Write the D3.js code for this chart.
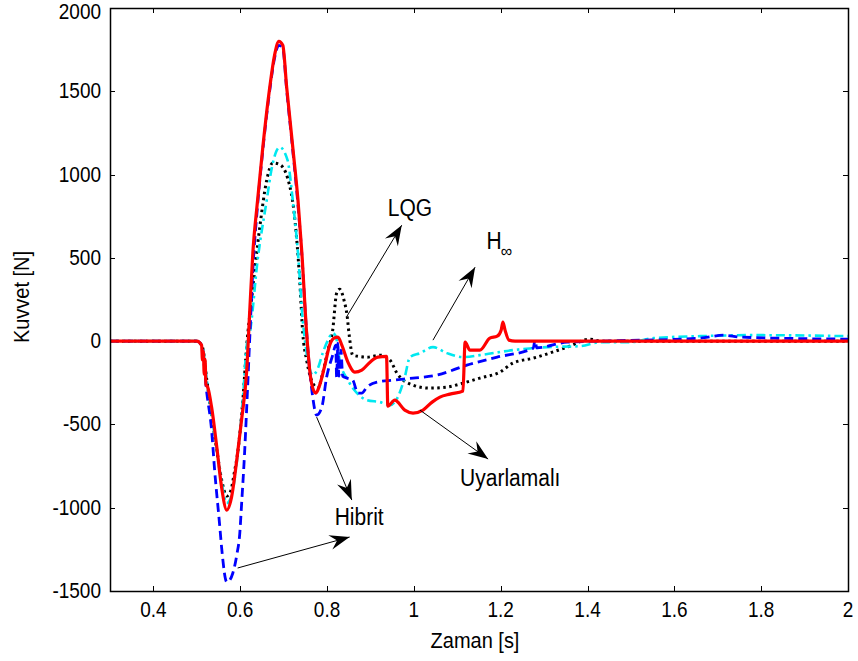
<!DOCTYPE html>
<html>
<head>
<meta charset="utf-8">
<script src="https://cdn.jsdelivr.net/npm/d3@7"></script>
<style>
  html, body { margin: 0; padding: 0; background: #fff; }
  svg text { font-family: "Liberation Sans", Arial, sans-serif; fill: #000; }
</style>
</head>
<body>
<svg id="chart" width="858" height="661"></svg>
<script>
/* ─── Data ───────────────────────────────────────────────────────────────── */

// [time s, force N]
const lqg = [
  [0.30, 0], [0.500, 0], [0.513, -36], [0.523, -234], [0.534, -444], [0.546, -654],
  [0.557, -830], [0.569, -930], [0.578, -900], [0.587, -780], [0.594, -672],
  [0.606, -354], [0.615, -24], [0.626, 246], [0.645, 684], [0.661, 966],
  [0.675, 1070], [0.691, 1060], [0.709, 980], [0.726, 726], [0.737, 366],
  [0.744, 48], [0.753, -114], [0.767, -252], [0.779, -282], [0.790, -192],
  [0.802, -54], [0.813, 66], [0.822, 288], [0.829, 312], [0.839, 246],
  [0.846, 156], [0.851, 36], [0.859, -84], [0.892, -96], [0.922, -84],
  [0.945, -114], [0.961, -192], [0.998, -264], [1.037, -282], [1.076, -276],
  [1.113, -252], [1.152, -222], [1.198, -186], [1.228, -132], [1.275, -102],
  [1.353, -36], [1.406, 12], [1.429, 0], [2.0, 0]
];

const hInf = [
  [0.30, 0], [0.500, 0], [0.513, -36], [0.523, -234], [0.534, -444], [0.546, -654],
  [0.557, -846], [0.569, -972], [0.576, -954], [0.585, -864], [0.594, -684],
  [0.606, -354], [0.615, -24], [0.622, 48], [0.640, 486], [0.661, 846],
  [0.673, 1044], [0.691, 1164], [0.709, 1086], [0.721, 846], [0.733, 528],
  [0.744, 126], [0.749, 6], [0.758, -144], [0.767, -204], [0.779, -162],
  [0.790, -72], [0.802, 6], [0.813, 48], [0.820, 30], [0.829, -114],
  [0.848, -234], [0.869, -312], [0.892, -354], [0.922, -366], [0.945, -384],
  [0.963, -336], [0.979, -216], [0.991, -96], [1.014, -72], [1.044, -36],
  [1.076, -72], [1.113, -96], [1.152, -84], [1.228, -54], [1.307, -36],
  [1.383, -30], [1.429, -6], [1.498, -6], [1.552, 18], [1.660, 30],
  [1.775, 36], [2.0, 30]
];

const hibrit = [
  [0.30, 0], [0.500, 0], [0.511, -24], [0.523, -312], [0.534, -534], [0.541, -774],
  [0.553, -1116], [0.557, -1236], [0.569, -1446], [0.576, -1434], [0.583, -1392],
  [0.592, -1284], [0.599, -1152], [0.603, -984], [0.610, -672], [0.617, -276],
  [0.622, 24], [0.629, 426], [0.640, 816], [0.652, 1146], [0.668, 1506],
  [0.679, 1698], [0.689, 1776], [0.698, 1758], [0.707, 1506], [0.721, 1146],
  [0.733, 816], [0.742, 516], [0.751, 126], [0.760, -174], [0.767, -336],
  [0.776, -444], [0.788, -396], [0.799, -216], [0.813, -84], [0.820, -24],
  [0.822, -216], [0.825, -12], [0.827, -210], [0.832, -54], [0.836, -210],
  [0.846, -222], [0.859, -234], [0.871, -312], [0.880, -312], [0.892, -276],
  [0.915, -246], [0.952, -234], [0.998, -222], [1.053, -204], [1.122, -144],
  [1.192, -96], [1.275, -42], [1.279, 6], [1.283, -40], [1.353, -6],
  [1.429, 0], [1.660, 18], [1.713, 36], [1.752, 24], [2.0, 12]
];

const uyarlamali = [
  [0.30, 0], [0.500, 0], [0.511, -24], [0.513, -114], [0.515, -60], [0.517, -200],
  [0.519, -110], [0.521, -260], [0.525, -276], [0.534, -396], [0.546, -636],
  [0.557, -876], [0.569, -1014], [0.580, -936], [0.592, -714], [0.603, -474],
  [0.615, -174], [0.622, 186], [0.629, 528], [0.640, 846], [0.652, 1164],
  [0.668, 1524], [0.679, 1716], [0.689, 1800], [0.698, 1776], [0.707, 1524],
  [0.721, 1164], [0.733, 846], [0.742, 528], [0.753, 48], [0.760, -174],
  [0.767, -282], [0.774, -312], [0.783, -264], [0.795, -144], [0.806, -24],
  [0.816, 18], [0.825, 24], [0.834, -24], [0.848, -126], [0.864, -186],
  [0.880, -174], [0.899, -126], [0.917, -96], [0.937, -92], [0.940, -390],
  [0.956, -354], [0.979, -414], [0.998, -432], [1.021, -414], [1.042, -366],
  [1.060, -336], [1.083, -318], [1.113, -300], [1.118, -6], [1.129, -54],
  [1.152, -54], [1.175, 18], [1.192, 30], [1.201, 66], [1.205, 114],
  [1.210, 66], [1.219, 6], [1.233, 0], [2.0, 0]
];

const xTicks = [0.4, 0.6, 0.8, 1.0, 1.2, 1.4, 1.6, 1.8, 2.0];
const xTickLabels = ['0.4', '0.6', '0.8', '1', '1.2', '1.4', '1.6', '1.8', '2'];
const yTicks = [-1500, -1000, -500, 0, 500, 1000, 1500, 2000];
const yTickLabels = ['-1500', '-1000', '-500', '0', '500', '1000', '1500', '2000'];

// annotations, in data units: arrow from -> to
const arrows = [
  { from: [0.845, 146],   to: [0.972, 696] },    // LQG
  { from: [1.044, 6],     to: [1.141, 444] },    // H∞
  { from: [1.014, -414],  to: [1.171, -708] },   // Uyarlamalı
  { from: [0.776, -456],  to: [0.857, -954] },   // Hibrit (upper)
  { from: [0.594, -1362], to: [0.852, -1176] },  // Hibrit (lower)
];

/* ─── Setup ──────────────────────────────────────────────────────────────── */

const L = 110, R = 848, T = 8, B = 591;
const SY = 1.12;   // the original text is slightly stretched vertically

const svg = d3.select('#chart');
const x = d3.scaleLinear().domain([0.3, 2]).range([L, R]);
const y = d3.scaleLinear().domain([-1500, 2000]).range([B, T]);

svg.append('defs').append('clipPath').attr('id', 'plot')
  .append('rect').attr('x', L).attr('y', T).attr('width', R - L).attr('height', B - T);

function label(px, py, str, size, anchor) {
  return svg.append('text')
    .attr('transform', `translate(${px},${py}) scale(1,${SY})`)
    .attr('text-anchor', anchor || 'middle')
    .style('font-size', size + 'px')
    .text(str);
}

/* ─── Axes ───────────────────────────────────────────────────────────────── */

const tick = 5;
const axes = svg.append('g').attr('stroke', '#000').attr('stroke-width', 1);

xTicks.forEach(v => {
  const px = Math.round(x(v)) + 0.5;
  axes.append('line').attr('x1', px).attr('x2', px).attr('y1', B).attr('y2', B - tick);
  axes.append('line').attr('x1', px).attr('x2', px).attr('y1', T).attr('y2', T + tick);
});
yTicks.forEach(v => {
  const py = Math.round(y(v)) + 0.5;
  axes.append('line').attr('x1', L).attr('x2', L + tick).attr('y1', py).attr('y2', py);
  axes.append('line').attr('x1', R).attr('x2', R - tick).attr('y1', py).attr('y2', py);
});

xTicks.forEach((v, i) => label(x(v), 617, xTickLabels[i], 19));
// the top label sits a little lower so it stays inside the page
yTicks.forEach((v, i) => label(101, Math.max(y(v) + 7, 19), yTickLabels[i], 19, 'end'));

label(475, 648, 'Zaman [s]', 20);
svg.append('text')
  .attr('transform', `translate(29,${297}) rotate(-90) scale(1,${SY})`)
  .attr('text-anchor', 'middle')
  .style('font-size', '20px')
  .text('Kuvvet [N]');

/* ─── Series ─────────────────────────────────────────────────────────────── */

const line = d3.line()
  .x(d => x(d[0]))
  .y(d => y(d[1]))
  .curve(d3.curveMonotoneX);

const series = [
  { data: lqg,        color: '#000000', width: 3,   dash: '2.5,3.5' },
  { data: hInf,       color: '#00e8f0', width: 2.6, dash: '9,4,2.5,4' },
  { data: hibrit,     color: '#0000ff', width: 2.8, dash: '9,5' },
  { data: uyarlamali, color: '#ff0000', width: 3.2, dash: null },
];

const plot = svg.append('g').attr('clip-path', 'url(#plot)');
series.forEach(s => {
  plot.append('path')
    .attr('d', line(s.data))
    .attr('fill', 'none')
    .attr('stroke', s.color)
    .attr('stroke-width', s.width)
    .attr('stroke-linejoin', 'round')
    .attr('stroke-dasharray', s.dash);
});

// frame on top
svg.append('rect')
  .attr('x', L + 0.5).attr('y', T + 0.5)
  .attr('width', R - L).attr('height', B - T)
  .attr('fill', 'none').attr('stroke', '#000').attr('stroke-width', 1.5);

/* ─── Annotations ────────────────────────────────────────────────────────── */

const headLen = 20, headW = 7.5, notch = 13;
arrows.forEach(a => {
  const x0 = x(a.from[0]), y0 = y(a.from[1]);
  const x1 = x(a.to[0]),   y1 = y(a.to[1]);
  const ang = Math.atan2(y1 - y0, x1 - x0) * 180 / Math.PI;
  svg.append('line')
    .attr('x1', x0).attr('y1', y0).attr('x2', x1).attr('y2', y1)
    .attr('stroke', '#000').attr('stroke-width', 1);
  svg.append('path')
    .attr('d', `M0,0 L${-headLen},${-headW} L${-notch},0 L${-headLen},${headW} Z`)
    .attr('transform', `translate(${x1},${y1}) rotate(${ang})`)
    .attr('fill', '#000');
});

label(x(0.991), y(750), 'LQG', 21);
label(x(1.167), y(552), 'H', 21, 'start');
label(x(1.200), y(505), '∞', 16, 'start');
label(x(1.222), y(-870), 'Uyarlamalı', 21);
label(x(0.874), y(-1104), 'Hibrit', 21);
</script>
</body>
</html>
